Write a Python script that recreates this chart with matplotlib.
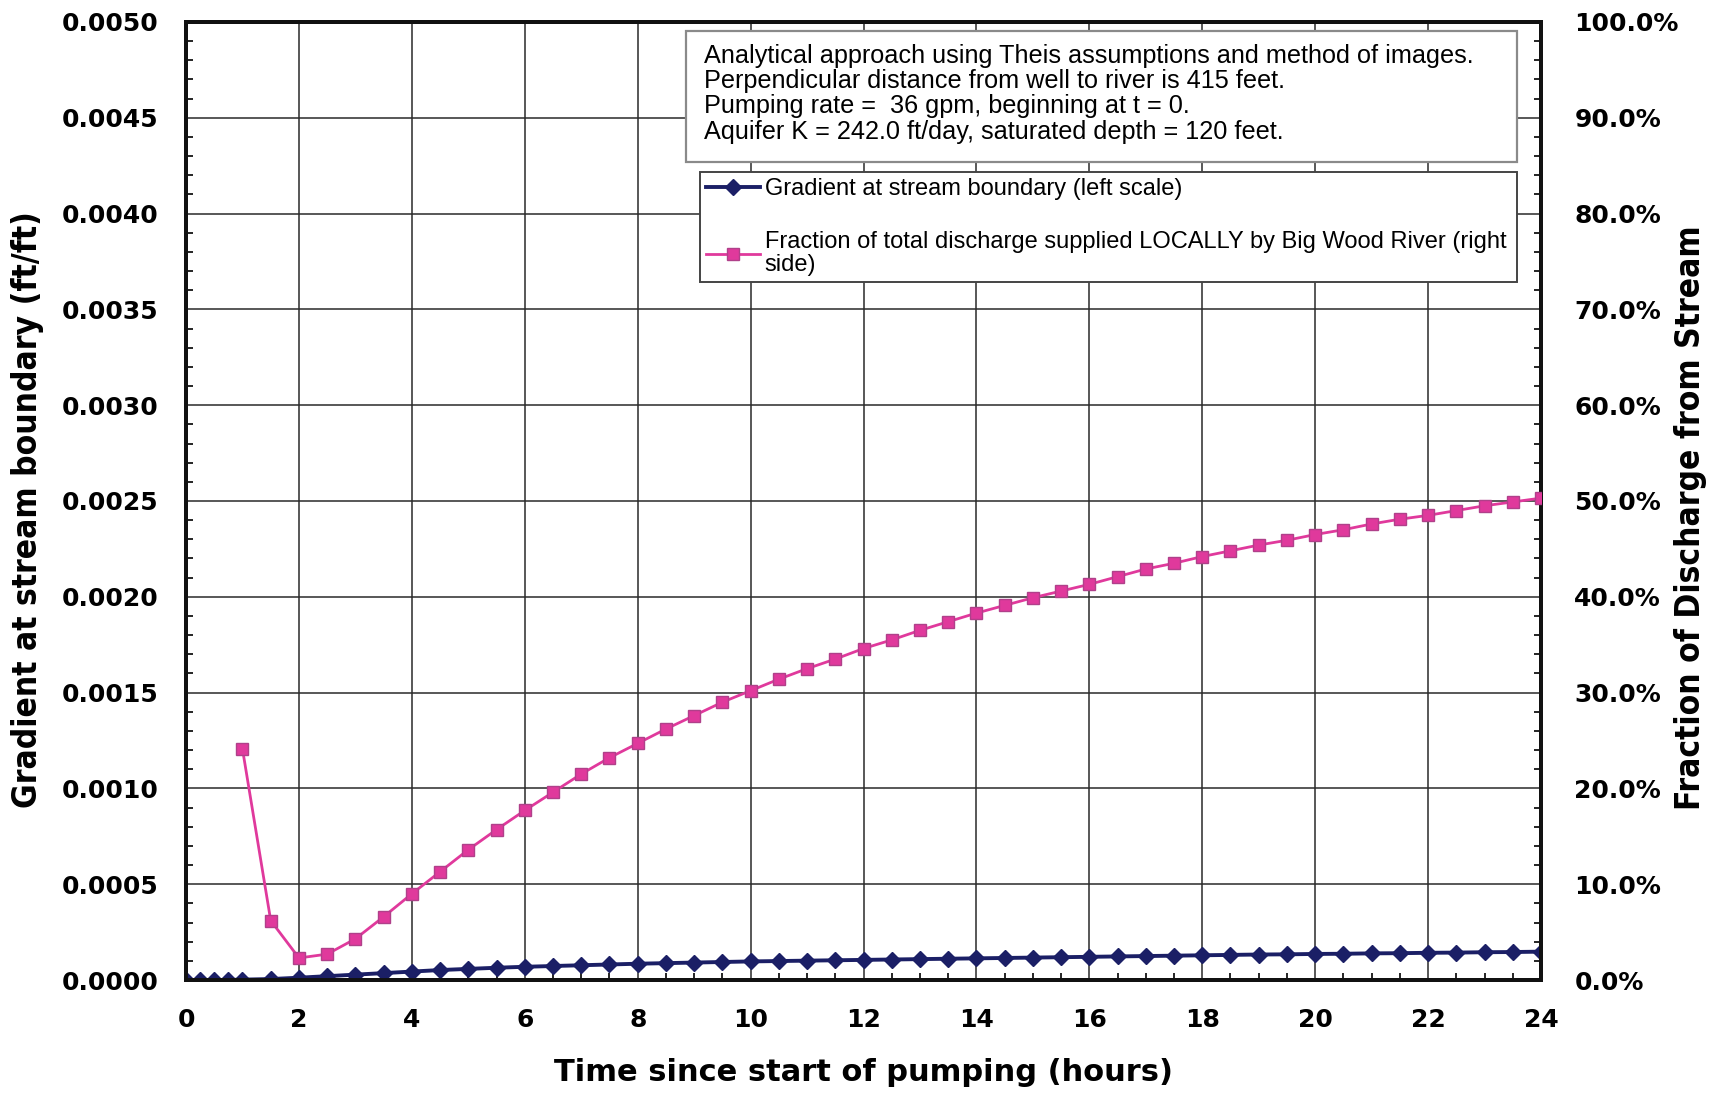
import matplotlib
matplotlib.use('Agg')
import matplotlib.pyplot as plt
from matplotlib.ticker import MultipleLocator, FuncFormatter
from matplotlib import font_manager
from matplotlib.patches import Rectangle

# time (hours) for the gradient series
grad_hours = [0, 0.25, 0.5, 0.75, 1.0, 1.5, 2.0, 2.5, 3.0, 3.5, 4.0, 4.5, 5.0, 5.5,
              6.0, 6.5, 7.0, 7.5, 8.0, 8.5, 9.0, 9.5, 10.0, 10.5, 11.0, 11.5, 12.0,
              12.5, 13.0, 13.5, 14.0, 14.5, 15.0, 15.5, 16.0, 16.5, 17.0, 17.5, 18.0,
              18.5, 19.0, 19.5, 20.0, 20.5, 21.0, 21.5, 22.0, 22.5, 23.0, 23.5, 24.0]
# gradient at stream boundary, in units of 1e-4 ft/ft
grad_e4 = [0, 0, 0, 0, 0.02, 0.05, 0.12, 0.20, 0.28, 0.36, 0.44, 0.52, 0.58, 0.64,
           0.69, 0.73, 0.77, 0.81, 0.85, 0.88, 0.91, 0.94, 0.97, 0.99, 1.01, 1.03, 1.05,
           1.07, 1.09, 1.11, 1.13, 1.15, 1.17, 1.19, 1.21, 1.23, 1.25, 1.27, 1.29,
           1.31, 1.33, 1.34, 1.36, 1.37, 1.39, 1.40, 1.42, 1.43, 1.45, 1.46, 1.48]

frac_hours = [1.0, 1.5, 2.0, 2.5, 3.0, 3.5, 4.0, 4.5, 5.0, 5.5, 6.0, 6.5, 7.0, 7.5,
              8.0, 8.5, 9.0, 9.5, 10.0, 10.5, 11.0, 11.5, 12.0, 12.5, 13.0, 13.5, 14.0,
              14.5, 15.0, 15.5, 16.0, 16.5, 17.0, 17.5, 18.0, 18.5, 19.0, 19.5, 20.0,
              20.5, 21.0, 21.5, 22.0, 22.5, 23.0, 23.5, 24.0]
# fraction of discharge from stream, percent
frac_pct = [24.1, 6.2, 2.3, 2.7, 4.3, 6.6, 9.0, 11.3, 13.6, 15.7, 17.7, 19.6, 21.5, 23.2,
            24.7, 26.2, 27.6, 29.0, 30.2, 31.4, 32.5, 33.5, 34.6, 35.5, 36.5, 37.4, 38.3,
            39.1, 39.9, 40.6, 41.3, 42.1, 42.9, 43.5, 44.2, 44.8, 45.4, 45.9, 46.5,
            47.0, 47.6, 48.1, 48.5, 49.0, 49.5, 49.9, 50.3]

info_lines = ["Analytical approach using Theis assumptions and method of images.",
              "Perpendicular distance from well to river is 415 feet.",
              "Pumping rate =  36 gpm, beginning at t = 0.",
              "Aquifer K = 242.0 ft/day, saturated depth = 120 feet."]
label_grad = "Gradient at stream boundary (left scale)"
label_frac = "Fraction of total discharge supplied LOCALLY by Big Wood River (right\nside)"

# condensed bold for the axis titles, if the system has it
cond = font_manager.FontProperties(family='DejaVu Sans', stretch='condensed', weight='bold')
if 'Condensed' in font_manager.findfont(cond):
    lab_font = dict(fontproperties=cond)
    lab_size = 24
else:
    lab_font = dict(family='DejaVu Sans', fontweight='bold')
    lab_size = 21

navy = '#1b1f66'
pink = '#e0399c'

fig = plt.figure(figsize=(17.21, 10.94), dpi=100)
ax = fig.add_axes([0.1081, 0.1042, 0.7873, 0.8757])
ax2 = ax.twinx()

ax.plot(grad_hours, [g * 1e-4 for g in grad_e4], color=navy, lw=2.8, marker='D',
        ms=8, mfc=navy, mec=navy, zorder=3, label=label_grad)
ax2.plot(frac_hours, [p / 100 for p in frac_pct], color=pink, lw=2, marker='s',
         ms=9, mfc=pink, mec='#b0408a', zorder=3, label=label_frac)

ax.set_xlim(0, 24)
ax.set_ylim(0, 0.005)
ax2.set_ylim(0, 1.0)

ax.xaxis.set_major_locator(MultipleLocator(2))
ax.xaxis.set_minor_locator(MultipleLocator(0.5))
ax.yaxis.set_major_locator(MultipleLocator(0.0005))
ax.yaxis.set_minor_locator(MultipleLocator(0.0001))
ax2.yaxis.set_major_locator(MultipleLocator(0.1))
ax2.yaxis.set_minor_locator(MultipleLocator(0.02))
ax.yaxis.set_major_formatter(FuncFormatter(lambda v, p: '%.4f' % v))
ax2.yaxis.set_major_formatter(FuncFormatter(lambda v, p: '%.1f%%' % (v * 100)))

ax.grid(True, which='major', color='#2a2a2a', lw=1.1)
ax.set_axisbelow(True)

for a in (ax, ax2):
    for s in a.spines.values():
        s.set_linewidth(2.8)
        s.set_color('#111111')

ax.tick_params(axis='both', which='both', direction='in', top=False, right=False)
ax.tick_params(axis='both', which='major', length=0)
ax.tick_params(axis='both', which='minor', length=5, width=1.2)
ax.tick_params(axis='x', which='major', pad=20, labelsize=18)
ax.tick_params(axis='y', which='major', pad=20, labelsize=18)
ax2.tick_params(axis='y', which='major', direction='in', length=0, pad=24, labelsize=18)
ax2.tick_params(axis='y', which='minor', direction='in', length=5, width=1.2)
for lab in ax.get_xticklabels() + ax.get_yticklabels() + ax2.get_yticklabels():
    lab.set_fontweight('bold')

ax.set_xlabel("Time since start of pumping (hours)", fontsize=22, fontweight='bold',
              labelpad=19)
fig.text(0.0157, 0.534, "Gradient at stream boundary (ft/ft)", rotation=90,
         ha='center', va='center', fontsize=lab_size, **lab_font)
fig.text(0.982, 0.527, "Fraction of Discharge from Stream", rotation=90,
         ha='center', va='center', fontsize=lab_size, **lab_font)

# info box
fig.patches.append(Rectangle((0.3986, 0.8519), 0.4829, 0.1198, transform=fig.transFigure,
                             facecolor='white', edgecolor='#8a8a8a', lw=1.6, zorder=5))
fig.text(0.4088, 0.9600, "\n".join(info_lines), ha='left', va='top', fontsize=18.2,
         family='Liberation Sans', linespacing=1.07, zorder=6)

h1, l1 = ax.get_legend_handles_labels()
h2, l2 = ax2.get_legend_handles_labels()
leg = ax2.legend(h1 + h2, l1 + l2, loc='upper left',
                 bbox_to_anchor=(0.4067, 0.7422, 0.4748, 0.1006),
                 bbox_transform=fig.transFigure, mode='expand',
                 prop={'family': 'Liberation Sans', 'size': 17},
                 handlelength=2.3, handletextpad=0.2, labelspacing=1.3,
                 borderpad=0.25, borderaxespad=0, fancybox=False, framealpha=1,
                 edgecolor='#444444')
for t in leg.get_texts():
    t.set_linespacing(1.1)
leg.get_frame().set_linewidth(1.4)
leg.set_zorder(10)

fig.savefig("out.png", dpi=100)
